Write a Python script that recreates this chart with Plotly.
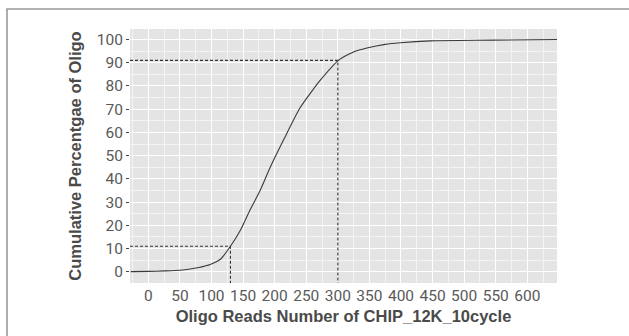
import plotly.graph_objects as go

# Cumulative read distribution for the CHIP_12K_10cycle library
reads = [-28, 0, 25, 50, 66, 80, 98, 114, 130, 146, 161, 177, 193, 214, 240,
         259, 272, 301, 324, 346, 375, 399, 446, 546, 647]
cum_pct = [0.1, 0.2, 0.4, 0.7, 1.2, 1.9, 3.2, 5.4, 11, 18, 26.6, 35, 45, 56.7,
           70.5, 77.8, 82.4, 91, 94.5, 96.3, 97.9, 98.6, 99.4, 99.7, 100]

# Reference markers (reads, cumulative %)
low_mark = (130, 11)
high_mark = (300, 91)

x_ticks = list(range(0, 601, 50))
y_ticks = list(range(0, 101, 10))
x_range = [-29, 647]
y_range = [-4.8, 104.5]

W, H = 629, 336
ML, MR, MT, MB = 130, 72, 29, 53
PW, PH = W - ML - MR, H - MT - MB

fig = go.Figure()

# dashed guide lines
for mx, my in (low_mark, high_mark):
    fig.add_trace(go.Scatter(
        x=[x_range[0], mx, mx], y=[my, my, y_range[0]],
        mode="lines", line=dict(color="#333333", width=1.1, dash="3px,2px"),
        hoverinfo="skip", showlegend=False))

fig.add_trace(go.Scatter(
    x=reads, y=cum_pct, mode="lines",
    line=dict(color="#3a3a3a", width=1.1, shape="spline", smoothing=0.7),
    showlegend=False))

tick_font = dict(family="Roboto, Liberation Sans, sans-serif", size=15.5, color="#595959")
title_font = dict(family="Liberation Sans, Arial, sans-serif", size=16.5, color="#4a4a4a")

fig.update_layout(
    width=W, height=H,
    margin=dict(l=ML, r=MR, t=MT, b=MB),
    paper_bgcolor="white",
    plot_bgcolor="#E4E4E4",
    xaxis=dict(
        range=x_range, tickvals=x_ticks, ticktext=[str(v) for v in x_ticks],
        showgrid=True, gridcolor="white", gridwidth=1.3,
        minor=dict(dtick=25, tick0=-25, showgrid=True, gridcolor="#F4F4F4", gridwidth=0.7),
        zeroline=False, showline=False,
        ticks="", tickfont=tick_font, ticklabelstandoff=1,
        title=dict(text="<b>Oligo Reads Number of CHIP_12K_10cycle</b>",
                   font=title_font, standoff=6),
    ),
    yaxis=dict(
        range=y_range, tickvals=y_ticks, ticktext=[str(v) for v in y_ticks],
        showgrid=True, gridcolor="white", gridwidth=1.3,
        minor=dict(dtick=5, tick0=-5, showgrid=True, gridcolor="#F4F4F4", gridwidth=0.7),
        zeroline=False, showline=False,
        ticks="outside", ticklen=3, tickwidth=1, tickcolor="#444444",
        tickfont=tick_font,
        title=dict(text="<b>Cumulative Percentgae of Oligo</b>",
                   font=title_font, standoff=10),
    ),
)

# outer frame (left and top edges visible)
fig.add_shape(type="rect", xref="paper", yref="paper",
              x0=(7 - ML) / PW, x1=(W + 20 - ML) / PW,
              y0=-(H + 20 - MT - PH) / PH, y1=(PH + MT - 9) / PH,
              line=dict(color="#9a9a9a", width=1.6), fillcolor="rgba(0,0,0,0)",
              layer="below")

fig.write_html("out.html")
